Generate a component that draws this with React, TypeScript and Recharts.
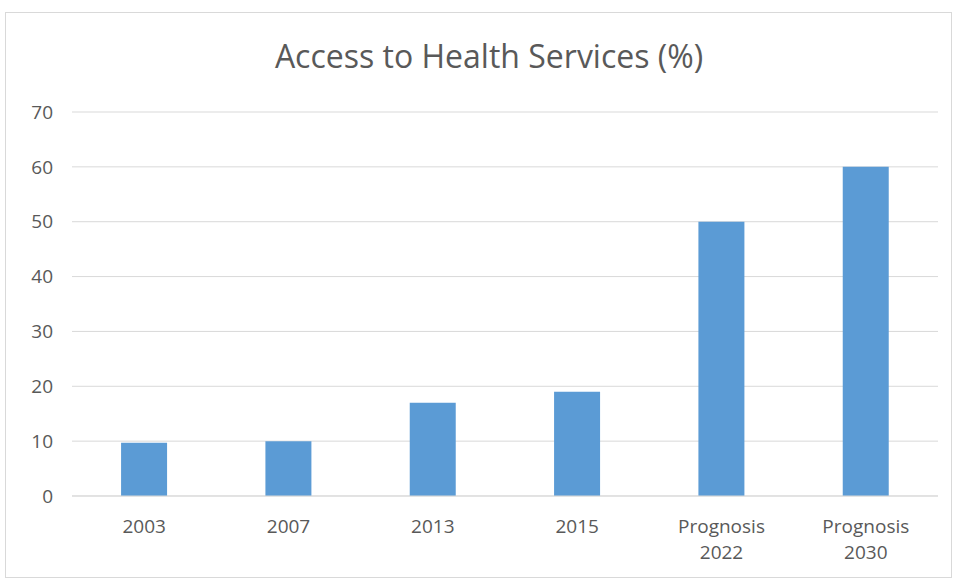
import { BarChart, Bar, XAxis, YAxis, CartesianGrid } from 'recharts';

const categories = ['2003', '2007', '2013', '2015', 'Prognosis 2022', 'Prognosis 2030'];
const access = [9.7, 10, 17, 19, 50, 60];
const yTicks = [0, 10, 20, 30, 40, 50, 60, 70];

const data = categories.map((c, i) => ({ name: c, value: access[i] }));

const FONT = '"Open Sans", sans-serif';
const TEXT = '#595959';
const GRID = '#d9d9d9';

function XTick({ x, y, payload }: any) {
  const lines = String(payload.value).split(' ');
  return (
    <text x={x} y={y + 10} textAnchor="middle" fill={TEXT} fontFamily={FONT} fontSize={19}>
      {lines.map((l, i) => (
        <tspan key={i} x={x} dy={i === 0 ? '1em' : '1.35em'}>
          {l}
        </tspan>
      ))}
    </text>
  );
}

export default function App() {
  return (
    <div style={{ position: 'absolute', left: 0, top: 0, width: 957, height: 581, background: '#fff' }}>
      <div
        style={{
          position: 'absolute',
          left: 5,
          top: 12,
          width: 947,
          height: 566,
          border: '1px solid #d9d9d9',
          boxSizing: 'border-box',
        }}
      />
      <div
        style={{
          position: 'absolute',
          top: 34,
          left: 0,
          width: 978,
          textAlign: 'center',
          fontFamily: FONT,
          fontSize: 32,
          color: TEXT,
          whiteSpace: 'nowrap',
        }}
      >
        Access to Health Services (%)
      </div>
      <div style={{ position: 'absolute', left: 0, top: 0 }}>
        <BarChart
          width={957}
          height={581}
          data={data}
          margin={{ top: 112, right: 19, bottom: 55, left: 0 }}
          barCategoryGap="34%"
        >
          <CartesianGrid vertical={false} stroke={GRID} />
          <XAxis
            dataKey="name"
            axisLine={{ stroke: GRID }}
            tickLine={false}
            tick={<XTick />}
            interval={0}
          />
          <YAxis
            width={72}
            domain={[0, 70]}
            ticks={yTicks}
            axisLine={false}
            tickLine={false}
            tickSize={0}
            tickMargin={19}
            tick={{ fill: TEXT, fontFamily: FONT, fontSize: 19 }}
          />
          <Bar dataKey="value" fill="#5b9bd5" isAnimationActive={false} />
        </BarChart>
      </div>
    </div>
  );
}
